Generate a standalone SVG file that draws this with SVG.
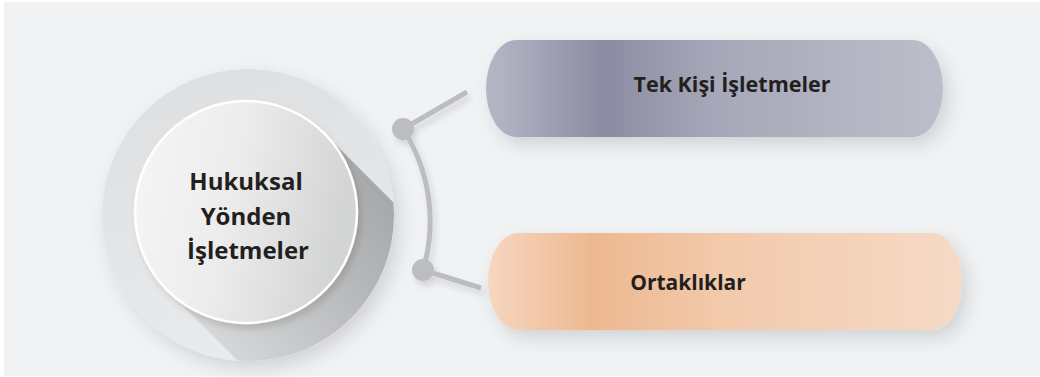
<svg xmlns="http://www.w3.org/2000/svg" width="1040" height="377" viewBox="0 0 1040 377">
  <defs>
    <style>
      .label { font-family: "Open Sans", "Noto Sans", "Liberation Sans", sans-serif; font-weight: 700; fill: #231f20; text-anchor: middle; }
      .wire { fill: none; stroke: #bcbdc1; stroke-linecap: butt; }
      .dot { fill: #bcbdc1; }
    </style>
    <linearGradient id="gPurple" x1="0" y1="0" x2="1" y2="0">
      <stop offset="0" stop-color="#b6b7c6"/>
      <stop offset="0.26" stop-color="#8b8ca2"/>
      <stop offset="0.5" stop-color="#a6a7b8"/>
      <stop offset="1" stop-color="#bebeca"/>
    </linearGradient>
    <linearGradient id="gPeach" x1="0" y1="0" x2="1" y2="0">
      <stop offset="0" stop-color="#f6d7c1"/>
      <stop offset="0.22" stop-color="#edb890"/>
      <stop offset="0.5" stop-color="#f2caac"/>
      <stop offset="1" stop-color="#f6dac6"/>
    </linearGradient>
    <linearGradient id="gRing" x1="0" y1="0" x2="0.3" y2="1">
      <stop offset="0" stop-color="#dcdee0"/>
      <stop offset="1" stop-color="#e8eaec"/>
    </linearGradient>
    <linearGradient id="gDisc" x1="0" y1="0" x2="1" y2="0.2">
      <stop offset="0" stop-color="#f6f6f6"/>
      <stop offset="0.5" stop-color="#ececec"/>
      <stop offset="1" stop-color="#d3d4d4"/>
    </linearGradient>
    <linearGradient id="gLong" gradientUnits="userSpaceOnUse" x1="180" y1="340" x2="380" y2="170">
      <stop offset="0" stop-color="#dadcde"/>
      <stop offset="0.6" stop-color="#b8babc"/>
      <stop offset="1" stop-color="#a4a6a8"/>
    </linearGradient>
    <clipPath id="ringClip">
      <circle cx="248" cy="215" r="146"/>
    </clipPath>
    <filter id="soft" x="-30%" y="-40%" width="160%" height="190%">
      <feDropShadow dx="6" dy="8" stdDeviation="9" flood-color="#000" flood-opacity="0.13"/>
    </filter>
    <filter id="softSmall" x="-30%" y="-30%" width="160%" height="160%">
      <feDropShadow dx="3" dy="5" stdDeviation="3" flood-color="#000" flood-opacity="0.12"/>
    </filter>
  </defs>

  <rect x="4" y="2" width="1036" height="374" fill="#f1f2f4"/>

  <!-- central hub -->
  <g id="hub">
    <circle cx="248" cy="215" r="146" fill="url(#gRing)" filter="url(#soft)"/>
    <g clip-path="url(#ringClip)">
      <polygon points="324.5,133.5 624.5,433.5 467.5,590.5 167.5,290.5" fill="url(#gLong)"/>
    </g>
    <circle cx="246" cy="212" r="111" fill="url(#gDisc)" stroke="#ffffff" stroke-width="2.5" filter="url(#softSmall)"/>
    <text class="label" x="246" y="190" font-size="24">Hukuksal</text>
    <text class="label" x="246" y="225" font-size="24">Yönden</text>
    <text class="label" x="248" y="259" font-size="24">İşletmeler</text>
  </g>

  <!-- connectors -->
  <g id="connectors" filter="url(#softSmall)">
    <path class="wire" stroke-width="5" d="M403,129 A170 170 0 0 1 423,270"/>
    <line class="wire" stroke-width="5" x1="403" y1="129" x2="467" y2="92"/>
    <line class="wire" stroke-width="5" x1="423" y1="270" x2="481" y2="288"/>
    <circle class="dot" cx="403" cy="129" r="11"/>
    <circle class="dot" cx="423" cy="270" r="11"/>
  </g>

  <g id="sole-proprietorship">
    <rect x="486" y="40" width="457" height="97" rx="30" ry="48.5" fill="url(#gPurple)" filter="url(#soft)"/>
    <text class="label" x="732" y="92" font-size="21.5">Tek Kişi İşletmeler</text>
  </g>

  <g id="partnerships">
    <rect x="488" y="233" width="474" height="97" rx="30" ry="48.5" fill="url(#gPeach)" filter="url(#soft)"/>
    <text class="label" x="688" y="290" font-size="21">Ortaklıklar</text>
  </g>
</svg>
